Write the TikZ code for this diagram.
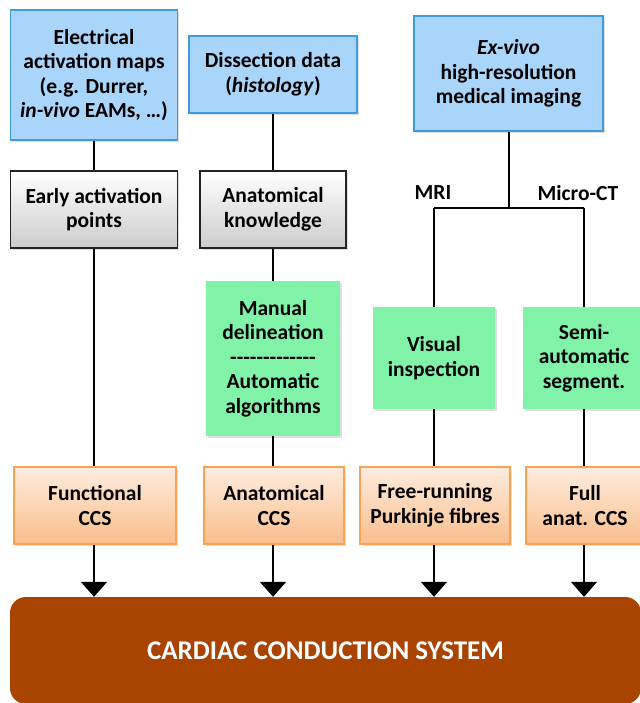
\documentclass[tikz,border=0pt]{standalone}
\usepackage{fontspec}
\setmainfont{Carlito}
\usetikzlibrary{arrows.meta,shadows}
\definecolor{bluefill}{RGB}{169,213,250}
\definecolor{blueline}{RGB}{60,156,220}
\definecolor{greyline}{RGB}{35,35,35}
\definecolor{greenfill}{RGB}{128,243,168}
\definecolor{orangetop}{RGB}{253,236,222}
\definecolor{orangebot}{RGB}{250,190,140}
\definecolor{orangeline}{RGB}{247,163,86}
\definecolor{ccsfill}{RGB}{168,67,0}
\tikzset{
  boxtext/.style={font=\bfseries\fontsize{21.5}{24.5}\selectfont, align=center, inner sep=0pt},
  box/.style={boxtext, drop shadow={opacity=0.25, shadow xshift=1.5pt, shadow yshift=-2pt}},
  sourcebox/.style={box, draw=blueline, fill=bluefill, line width=1.5pt},
  knowbox/.style={box, draw=greyline, line width=1.2pt, top color=white, bottom color=black!20},
  methodbox/.style={box, fill=greenfill},
  modelbox/.style={box, draw=orangeline, line width=1.5pt, top color=orangetop, bottom color=orangebot},
  conn/.style={line width=2pt},
  flow/.style={line width=2pt, -{Triangle[width=26pt,length=15pt]}}
}
\begin{document}
\begin{tikzpicture}[x=1pt,y=-1pt]
    \useasboundingbox (0,0) rectangle (639,703);
    % data sources
    \node[sourcebox, minimum width=167pt, minimum height=130pt] (elec) at (94,75)
        {Electrical\\activation maps\\(e.g. Durrer,\\\textit{in-vivo} EAMs, \dots)};
    \node[sourcebox, minimum width=168pt, minimum height=77pt] (dissec) at (273,74.5)
        {Dissection data\\(\textit{histology})};
    \node[sourcebox, minimum width=189pt, minimum height=115pt] (exvivo) at (508.5,73.5)
        {\textit{Ex-vivo}\\high-resolution\\medical imaging};
    % knowledge
    \node[knowbox, minimum width=167pt, minimum height=77pt] (early) at (94,209.5)
        {Early activation\\points};
    \node[knowbox, minimum width=146pt, minimum height=77pt] (knowl) at (273,209.5)
        {Anatomical\\knowledge};
    \coordinate (split) at (508.5,208);
    \node[boxtext] (mri) at (433,193) {MRI};
    \node[boxtext] (microct) at (578,193) {Micro-CT};
    % methods
    \node[methodbox, minimum width=134pt, minimum height=155pt] (manual) at (273,358.5)
        {Manual\\delineation\\{-}{-}{-}{-}{-}{-}{-}{-}{-}{-}{-}{-}{-}\\Automatic\\algorithms};
    \node[methodbox, minimum width=122pt, minimum height=102pt] (visual) at (434,358)
        {Visual\\inspection};
    \node[methodbox, minimum width=122pt, minimum height=102pt] (semi) at (584,358)
        {Semi-\\automatic\\segment.};
    % models
    \node[modelbox, minimum width=162pt, minimum height=77pt] (func) at (95,505.5)
        {Functional\\CCS};
    \node[modelbox, minimum width=140pt, minimum height=77pt] (anat) at (274,505.5)
        {Anatomical\\CCS};
    \node[modelbox, minimum width=150pt, minimum height=77pt] (free) at (435,505.5)
        {Free-running\\Purkinje fibres};
    \node[modelbox, minimum width=118pt, minimum height=77pt] (full) at (585,505.5)
        {Full\\anat. CCS};
    \node[fill=ccsfill, rounded corners=16pt, minimum width=631pt, minimum height=107pt,
        text=white, font=\bfseries\fontsize{27}{32}\selectfont] (ccs) at (325.5,650.5)
        {CARDIAC CONDUCTION SYSTEM};
    % connections
    \draw[conn] (elec) -- (early);
    \draw[conn] (early.south) -- (early.south |- func.north);
    \draw[conn] (dissec) -- (knowl);
    \draw[conn] (knowl) -- (manual);
    \draw[conn] (manual) -- (manual.south |- anat.north);
    \draw[conn] (exvivo) -- (split);
    \draw[conn] (split -| visual) -- (split -| semi);
    \draw[conn] (split -| visual) -- (visual);
    \draw[conn] (split -| semi) -- (semi);
    \draw[conn] (visual) -- (visual.south |- free.north);
    \draw[conn] (semi) -- (semi.south |- full.north);
    \draw[flow] (func.south -| early) -- (ccs.north -| early);
    \draw[flow] (anat.south -| manual) -- (ccs.north -| manual);
    \draw[flow] (free.south -| visual) -- (ccs.north -| visual);
    \draw[flow] (full.south -| semi) -- (ccs.north -| semi);
\end{tikzpicture}
\end{document}
